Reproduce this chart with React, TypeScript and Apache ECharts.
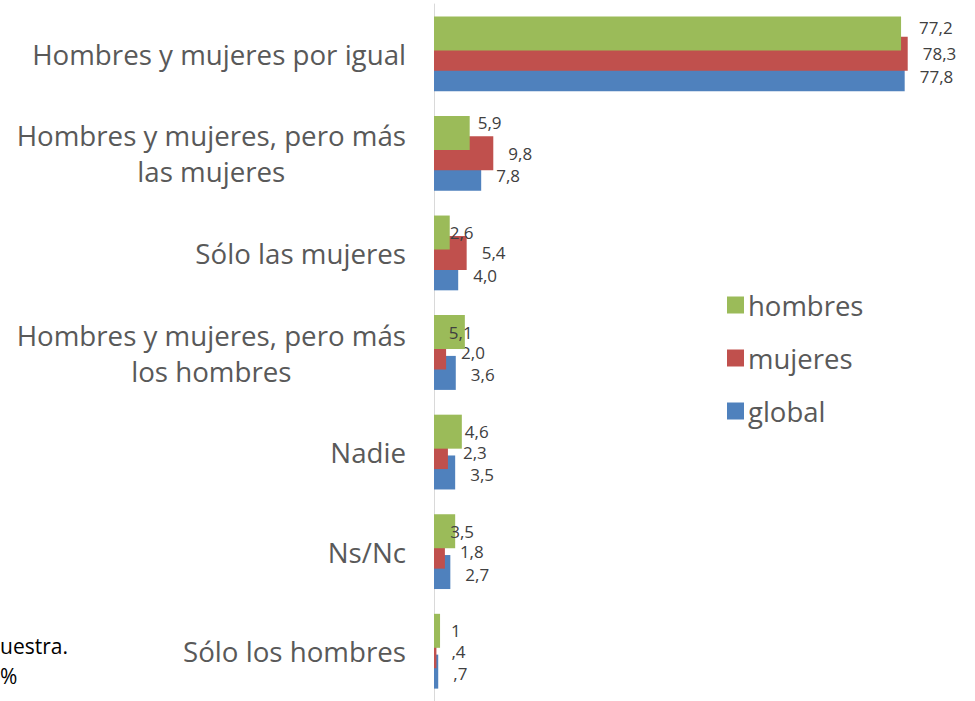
import React, { useEffect, useRef } from "react";
import * as echarts from "echarts";

const categories = [
  "Hombres y mujeres por igual",
  "Hombres y mujeres, pero más\nlas mujeres",
  "Sólo las mujeres",
  "Hombres y mujeres, pero más\nlos hombres",
  "Nadie",
  "Ns/Nc",
  "Sólo los hombres",
];
const hombres = [77.2, 5.9, 2.6, 5.1, 4.6, 3.5, 1.0];
const mujeres = [78.3, 9.8, 5.4, 2.0, 2.3, 1.8, 0.4];
const globalVals = [77.8, 7.8, 4.0, 3.6, 3.5, 2.7, 0.7];
const seriesNames = ["hombres", "mujeres", "global"];
const sideNotes = ["uestra.", "%"];

// label nudges for the first series (layout only)
const greenLabelNudge: [number, number][] = [
  [18, -6], [8, -10], [0, 0], [-16, 0], [3, 0], [-5, 0], [11, 0],
];

const FONT = "'Open Sans', Lato, sans-serif";

function fmt(v: number): string {
  let s = v.toFixed(1).replace(".", ",");
  if (v <= 1) {
    if (s.startsWith("0")) s = s.slice(1);
    if (s.endsWith(",0")) s = s.slice(0, -2);
  }
  return s;
}

export default function App() {
  const ref = useRef<HTMLDivElement>(null);
  useEffect(() => {
    if (!ref.current) return;
    const chart = echarts.init(ref.current, undefined, { renderer: "svg" });
    const labelBase = {
      show: true,
      position: "right" as const,
      fontFamily: FONT,
      fontSize: 17,
      color: "#404040",
      formatter: (p: any) => fmt(p.value),
    };
    chart.setOption({
      animation: false,
      grid: { left: 434, top: 4, width: 484, height: 703 },
      legend: {
        orient: "vertical",
        left: 722,
        top: 282,
        icon: "rect",
        itemWidth: 17,
        itemHeight: 17,
        itemGap: 17,
        data: seriesNames,
        textStyle: {
          fontFamily: FONT,
          fontSize: 27.5,
          lineHeight: 36,
          color: "#595959",
          padding: [0, 0, 0, -1],
        },
      },
      xAxis: {
        type: "value",
        min: 0,
        max: 80,
        show: false,
        splitLine: { show: false },
      },
      yAxis: {
        type: "category",
        inverse: true,
        data: categories,
        axisLine: { show: true, lineStyle: { color: "#d9d9d9", width: 1 } },
        axisTick: { show: false },
        axisLabel: {
          margin: 28,
          formatter: (v: string) =>
            v.split("\n").map((l) => `{c|${l}}`).join("\n"),
          rich: {
            c: {
              align: "center",
              fontFamily: FONT,
              fontSize: 27.7,
              lineHeight: 36,
              color: "#595959",
            },
          },
        },
      },
      series: [
        {
          name: seriesNames[0],
          type: "bar",
          z: 5,
          barWidth: 34,
          barGap: "-40%",
          itemStyle: { color: "#9BBB59" },
          data: hombres.map((v, i) => ({
            value: v,
            label: { offset: greenLabelNudge[i] },
          })),
          label: { ...labelBase, distance: 0 },
        },
        {
          name: seriesNames[1],
          type: "bar",
          z: 4,
          barWidth: 34,
          barGap: "-40%",
          itemStyle: { color: "#C0504D" },
          data: mujeres,
          label: { ...labelBase, distance: 15 },
        },
        {
          name: seriesNames[2],
          type: "bar",
          z: 3,
          barWidth: 34,
          barGap: "-40%",
          itemStyle: { color: "#4F81BD" },
          data: globalVals,
          label: { ...labelBase, distance: 15, offset: [0, 2] },
        },
      ],
      graphic: [
        {
          type: "text",
          left: 0,
          top: 635,
          style: { text: sideNotes[0], fontFamily: FONT, fontSize: 21, fill: "#000" },
        },
        {
          type: "text",
          left: 0,
          top: 665,
          style: { text: sideNotes[1], fontFamily: FONT, fontSize: 21, fill: "#000" },
        },
      ],
    });
    return () => chart.dispose();
  }, []);
  return (
    <div
      ref={ref}
      style={{ position: "fixed", left: 0, top: 0, width: 975, height: 701, background: "#fff" }}
    />
  );
}
